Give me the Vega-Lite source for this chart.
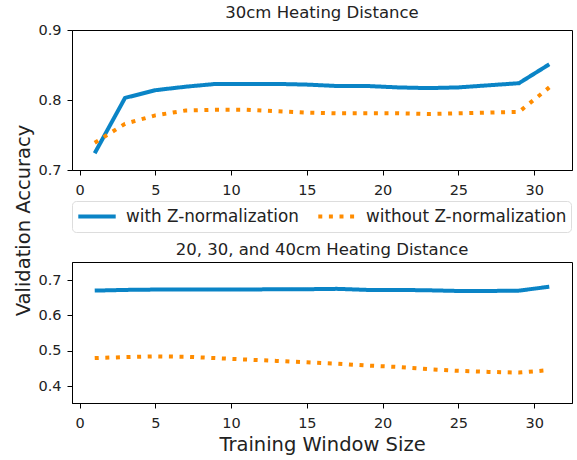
{
  "$schema": "https://vega.github.io/schema/vega-lite/v6.json",
  "background": "white",
  "padding": {"left": 13, "top": 4, "right": 3, "bottom": 3},
  "config": {
    "font": "DejaVu Sans",
    "view": {"stroke": "black", "strokeWidth": 1},
    "axis": {"grid": false, "domainColor": "black", "tickColor": "black", "labelColor": "#222", "labelFontSize": 14.5, "tickSize": 5, "labelPadding": 6, "titleFontWeight": "normal", "titleFontSize": 19.5, "titleColor": "#222"},
    "axisX": {"labelPadding": 8},
    "title": {"fontSize": 16.5, "fontWeight": "normal", "color": "#222", "offset": 4}
  },
  "datasets": {
    "top": [
      {"size": 1, "acc": 0.724, "series": "with Z-normalization"},
      {"size": 3, "acc": 0.803, "series": "with Z-normalization"},
      {"size": 5, "acc": 0.814, "series": "with Z-normalization"},
      {"size": 7, "acc": 0.819, "series": "with Z-normalization"},
      {"size": 9, "acc": 0.823, "series": "with Z-normalization"},
      {"size": 11, "acc": 0.823, "series": "with Z-normalization"},
      {"size": 13, "acc": 0.823, "series": "with Z-normalization"},
      {"size": 15, "acc": 0.822, "series": "with Z-normalization"},
      {"size": 17, "acc": 0.820, "series": "with Z-normalization"},
      {"size": 19, "acc": 0.820, "series": "with Z-normalization"},
      {"size": 21, "acc": 0.818, "series": "with Z-normalization"},
      {"size": 23, "acc": 0.817, "series": "with Z-normalization"},
      {"size": 25, "acc": 0.818, "series": "with Z-normalization"},
      {"size": 27, "acc": 0.821, "series": "with Z-normalization"},
      {"size": 29, "acc": 0.824, "series": "with Z-normalization"},
      {"size": 31, "acc": 0.851, "series": "with Z-normalization"},
      {"size": 1, "acc": 0.739, "series": "without Z-normalization"},
      {"size": 3, "acc": 0.766, "series": "without Z-normalization"},
      {"size": 5, "acc": 0.778, "series": "without Z-normalization"},
      {"size": 7, "acc": 0.785, "series": "without Z-normalization"},
      {"size": 9, "acc": 0.786, "series": "without Z-normalization"},
      {"size": 11, "acc": 0.786, "series": "without Z-normalization"},
      {"size": 13, "acc": 0.784, "series": "without Z-normalization"},
      {"size": 15, "acc": 0.782, "series": "without Z-normalization"},
      {"size": 17, "acc": 0.781, "series": "without Z-normalization"},
      {"size": 19, "acc": 0.781, "series": "without Z-normalization"},
      {"size": 21, "acc": 0.781, "series": "without Z-normalization"},
      {"size": 23, "acc": 0.780, "series": "without Z-normalization"},
      {"size": 25, "acc": 0.781, "series": "without Z-normalization"},
      {"size": 27, "acc": 0.782, "series": "without Z-normalization"},
      {"size": 29, "acc": 0.783, "series": "without Z-normalization"},
      {"size": 31, "acc": 0.818, "series": "without Z-normalization"}
    ],
    "bottom": [
      {"size": 1, "acc": 0.670, "series": "with Z-normalization"},
      {"size": 3, "acc": 0.672, "series": "with Z-normalization"},
      {"size": 5, "acc": 0.673, "series": "with Z-normalization"},
      {"size": 7, "acc": 0.673, "series": "with Z-normalization"},
      {"size": 9, "acc": 0.673, "series": "with Z-normalization"},
      {"size": 11, "acc": 0.673, "series": "with Z-normalization"},
      {"size": 13, "acc": 0.674, "series": "with Z-normalization"},
      {"size": 15, "acc": 0.674, "series": "with Z-normalization"},
      {"size": 17, "acc": 0.675, "series": "with Z-normalization"},
      {"size": 19, "acc": 0.672, "series": "with Z-normalization"},
      {"size": 21, "acc": 0.672, "series": "with Z-normalization"},
      {"size": 23, "acc": 0.671, "series": "with Z-normalization"},
      {"size": 25, "acc": 0.669, "series": "with Z-normalization"},
      {"size": 27, "acc": 0.669, "series": "with Z-normalization"},
      {"size": 29, "acc": 0.670, "series": "with Z-normalization"},
      {"size": 31, "acc": 0.681, "series": "with Z-normalization"},
      {"size": 1, "acc": 0.479, "series": "without Z-normalization"},
      {"size": 3, "acc": 0.482, "series": "without Z-normalization"},
      {"size": 5, "acc": 0.484, "series": "without Z-normalization"},
      {"size": 7, "acc": 0.483, "series": "without Z-normalization"},
      {"size": 9, "acc": 0.479, "series": "without Z-normalization"},
      {"size": 11, "acc": 0.475, "series": "without Z-normalization"},
      {"size": 13, "acc": 0.471, "series": "without Z-normalization"},
      {"size": 15, "acc": 0.467, "series": "without Z-normalization"},
      {"size": 17, "acc": 0.463, "series": "without Z-normalization"},
      {"size": 19, "acc": 0.458, "series": "without Z-normalization"},
      {"size": 21, "acc": 0.454, "series": "without Z-normalization"},
      {"size": 23, "acc": 0.448, "series": "without Z-normalization"},
      {"size": 25, "acc": 0.443, "series": "without Z-normalization"},
      {"size": 27, "acc": 0.440, "series": "without Z-normalization"},
      {"size": 29, "acc": 0.438, "series": "without Z-normalization"},
      {"size": 31, "acc": 0.445, "series": "without Z-normalization"}
    ]
  },
  "bounds": "flush",
  "spacing": 92,
  "resolve": {"legend": {"color": "independent", "strokeDash": "independent"}},
  "vconcat": [
    {
      "title": {"text": "30cm Heating Distance", "offset": 1},
      "width": 500,
      "height": 140,
      "data": {"name": "top"},
      "mark": {"type": "line", "strokeWidth": 4, "strokeCap": "butt"},
      "encoding": {
        "x": {"field": "size", "type": "quantitative", "scale": {"domain": [-0.5, 32.5], "nice": false, "zero": false}, "axis": {"values": [0, 5, 10, 15, 20, 25, 30], "title": null}},
        "y": {"field": "acc", "type": "quantitative", "scale": {"domain": [0.7, 0.9], "nice": false, "zero": false}, "axis": {"values": [0.7, 0.8, 0.9], "format": ".1f", "title": "Validation Accuracy", "titleY": 190, "titlePadding": 4}},
        "color": {"field": "series", "type": "nominal", "scale": {"domain": ["with Z-normalization", "without Z-normalization"], "range": ["#0a84c6", "#ff8c00"]}, "legend": {"title": null, "orient": "bottom", "direction": "horizontal", "symbolType": "stroke", "symbolSize": 1400, "symbolStrokeWidth": 4, "clipHeight": 23, "labelFontSize": 16.8, "labelColor": "#222", "strokeColor": "#ddd", "cornerRadius": 4, "padding": 4, "columnPadding": 17, "offset": 4, "labelOffset": 8, "labelLimit": 300}},
        "strokeDash": {"field": "series", "type": "nominal", "scale": {"domain": ["with Z-normalization", "without Z-normalization"], "range": [[1, 0], [4, 6.6]]}, "legend": {"title": null, "orient": "bottom", "direction": "horizontal", "symbolType": "stroke", "symbolSize": 1400, "symbolStrokeWidth": 4, "clipHeight": 23, "labelFontSize": 16.8, "labelColor": "#222", "strokeColor": "#ddd", "cornerRadius": 4, "padding": 4, "columnPadding": 17, "offset": 4, "labelOffset": 8, "labelLimit": 300}}
      }
    },
    {
      "title": "20, 30, and 40cm Heating Distance",
      "width": 500,
      "height": 141,
      "data": {"name": "bottom"},
      "mark": {"type": "line", "strokeWidth": 4, "strokeCap": "butt"},
      "encoding": {
        "x": {"field": "size", "type": "quantitative", "scale": {"domain": [-0.5, 32.5], "nice": false, "zero": false}, "axis": {"values": [0, 5, 10, 15, 20, 25, 30], "title": "Training Window Size", "titlePadding": 6}},
        "y": {"field": "acc", "type": "quantitative", "scale": {"domain": [0.352, 0.751], "nice": false, "zero": false}, "axis": {"values": [0.4, 0.5, 0.6, 0.7], "format": ".1f", "title": null}},
        "color": {"field": "series", "type": "nominal", "scale": {"domain": ["with Z-normalization", "without Z-normalization"], "range": ["#0a84c6", "#ff8c00"]}, "legend": null},
        "strokeDash": {"field": "series", "type": "nominal", "scale": {"domain": ["with Z-normalization", "without Z-normalization"], "range": [[1, 0], [4, 6.6]]}, "legend": null}
      }
    }
  ]
}
